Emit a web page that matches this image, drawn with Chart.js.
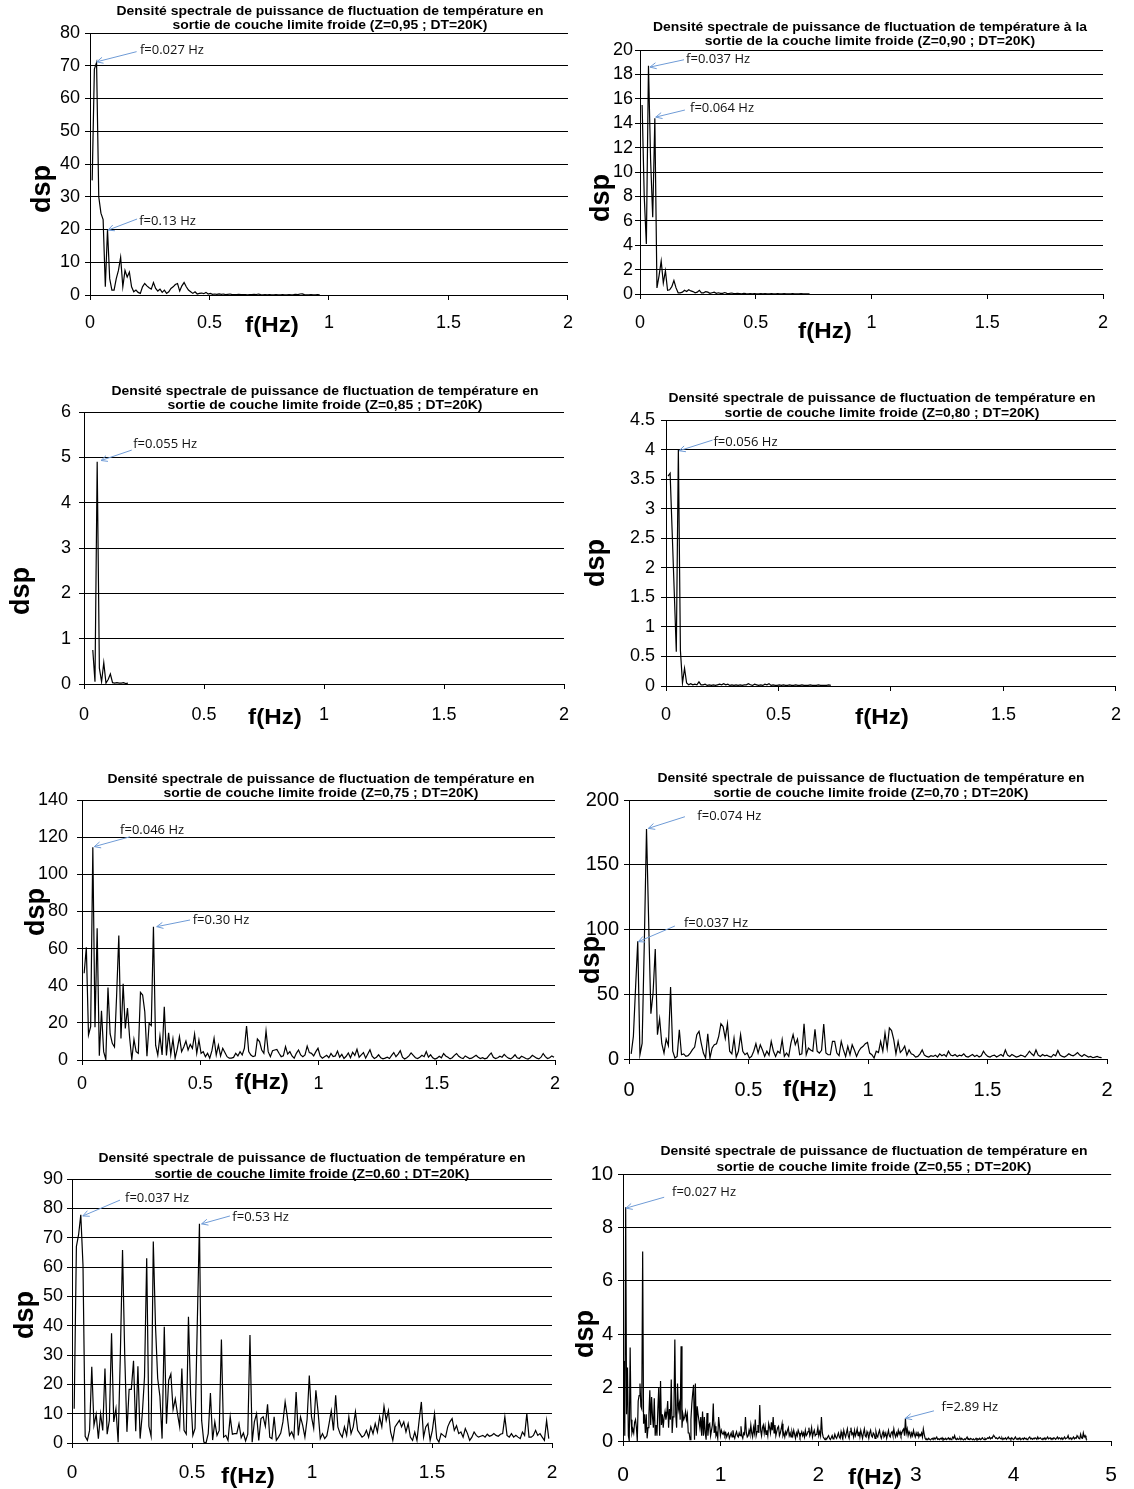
<!DOCTYPE html>
<html><head><meta charset="utf-8">
<script src="https://cdn.jsdelivr.net/npm/chart.js@4.4.1/dist/chart.umd.min.js"></script>
<style>
html,body{margin:0;padding:0;background:#fff;}
body{width:1134px;height:1489px;position:relative;overflow:hidden;}
canvas{position:absolute;}
</style></head><body>
<canvas id="c1"></canvas><canvas id="c2"></canvas><canvas id="c3"></canvas><canvas id="c4"></canvas>
<canvas id="c5"></canvas><canvas id="c6"></canvas><canvas id="c7"></canvas><canvas id="c8"></canvas>
<script>
// frequency resolution of the spectra (Hz per bin)
const freqStep = 0.009155;

// ---- series values (dsp), one value per frequency bin ----
const z095 = [35,69,71,30,25,23,2.5,20,5,1.5,
1.5,5,7.5,11.5,2.5,7.5,5.5,7,2.5,1,
1.5,0.8,0.5,2.5,3.5,2.8,2.2,1.8,3.8,2,
1.2,1.8,0.8,1.5,0.5,1,2,2.5,3.2,3.5,
1.2,2.8,3.8,2.5,1.5,1,0.5,1,0.3,0.5,
0.6,0.4,0.8,0.3,0.5,0.2,0.3,0.2,0.35,0.2,
0.3,0.1,0.2,0.3,0.1,0.15,0.1,0.2,0.1,0.15,
0.1,0.05,0.1,0.1,0.2,0.15,0.3,0.1,0.05,0.1,
0.05,0.1,0.05,0.05,0.1,0.05,0.05,0.1,0.05,0.05,
0.1,0.05,0.1,0.2,0.1,0.3,0.35,0.1,0.05,0.05,
0.1,0.05,0.05,0.1,0.05];
const z090 = [15.5,8,4.1,18.7,11,6.3,14.4,0.5,1.5,2.7,
0.9,1.9,0.3,0.35,0.6,1.1,0.5,0.1,0.1,0.15,
0.3,0.2,0.35,0.25,0.2,0.1,0.15,0.3,0.1,0.1,
0.2,0.15,0.05,0.1,0.15,0.05,0.1,0.05,0.05,0.12,
0.05,0.03,0.08,0.05,0.03,0.06,0.04,0.02,0.05,0.03,
0.02,0.04,0.02,0.03,0.02,0.02,0.04,0.02,0.03,0.02,
0.02,0.03,0.02,0.02,0.03,0.02,0.02,0.03,0.02,0.02,
0.02,0.03,0.02,0.02,0.02,0.03,0.02,0.02,0.02,0.02];
const z085 = [0.75,0.05,4.9,0.35,0.05,0.47,0.02,0.1,0.22,0.03,0.02,0.03,0.02,0.02,0.03,0.01,0.02];
const z080 = [3.55,3.6,2.6,1.6,0.58,4.0,0.6,0.05,0.3,0.05,
0.02,0.04,0.02,0.03,0.02,0.07,0.02,0.02,0.03,0.01,
0.02,0.01,0.02,0.01,0.02,0.03,0.02,0.04,0.02,0.03,
0.01,0.02,0.01,0.02,0.01,0.02,0.01,0.02,0.02,0.04,
0.02,0.01,0.03,0.02,0.01,0.02,0.01,0.03,0.02,0.04,
0.01,0.02,0.01,0.01,0.02,0.01,0.02,0.01,0.01,0.02,
0.01,0.01,0.02,0.01,0.01,0.02,0.01,0.01,0.01,0.02,
0.01,0.01,0.01,0.02,0.01,0.01,0.01,0.01,0.02,0.01];
const z075 = [46.7,60.7,13.5,18,114.5,17.6,71,2.3,26.5,4.5,
0.3,39,14,9,7,35,67,11.6,41,17,
28,12,0.3,11,4.5,3.6,36.4,35,26,2,
19.7,18.5,71.8,8,2.7,13,2.7,28.7,2.5,14.7,
3,11.3,1,6,12.6,4.5,7,10.2,5.4,8.4,
6.3,14,3.6,10.8,3.6,4.5,1.8,3.6,1,5,
11.7,2.7,8,2.2,6.3,4,1.8,1,1,1.4,
3.6,2.2,4.5,2.7,6.3,18.3,4.5,2.7,1.8,2.2,
11.3,9.9,5.4,3.6,15.6,4.5,1.8,5,5.4,5.7,
3.6,1.8,2.2,7.2,3.2,4.5,2.2,1,3.6,5.4,
2.7,1.8,2.7,7.5,4,3.6,2.2,4.5,6.3,2.2,
1,1.8,
2.5,1.2,3.5,1.8,2.2,4.8,1.5,3,0.8,2,
3.8,1.2,4.2,2.5,5.8,1.5,2.8,4,1,3.2,
5.5,2,0.8,1.5,2.8,1.2,0.6,1,1.5,0.8,
2.5,4,1.8,3.2,5,1.5,0.5,1.2,2.2,3.8,
2.5,1.2,0.8,1.5,2.5,1.8,4.5,1.5,2.8,1.2,
0.5,1,2,1.2,3.5,2.2,1.5,0.6,1.2,2.5,
3.5,2,1.2,0.8,2.2,1.5,0.8,1,1.8,2.5,
1.5,0.8,1.2,0.6,1,2.5,3.8,1.5,0.8,1.2,
2,1.5,3,1.8,1,0.6,1.5,2.8,1.2,0.8,
2,1.5,0.8,0.5,1.2,2.5,1.8,1,0.6,1.5,
3.5,1.8,0.8,1.2,2.2,1.5];
const z070 = [4,17.5,55,91,3.3,12,90,177.6,105,35,
51,85,18.8,31,11.8,4.6,15.4,10.3,55.5,6,
0.8,2,22.6,3.3,3.9,2,2.6,4.6,7.2,9.2,
18.8,21.3,12.3,4.6,0.8,19.5,0.8,8.5,11,11.8,
17.5,27.2,25,16,27.2,6,4,16,1.5,6,
18.8,6,3.3,4.6,0.8,2,6,11.8,4.6,11,
7,2,6,3,13.6,6,2,6,4.6,15,
2,4.6,2,12.3,18.8,11,15.4,3.3,4,27.2,
3.3,8.5,7,6,23,6,4.6,6.7,27,4.6,
3.3,3.3,13.6,13.6,4.6,2.6,13.6,7,2,9.8,
3.3,11,7,2,6,8.5,9.8,11.8,12.8,4.6,
3.3,0.8,6,5,
13.5,6,20,8,24,22,15,4,13.5,5,
7,10,3,7,4,3.3,1.5,2,4,7,
3,2,1.5,2.5,2,3,1.5,4,2.5,3.5,
2,6,3,2.5,3.5,2,3,2.5,4,2,
1.5,2.5,3.5,2,3,1.5,2.5,6,3.5,2,
1.5,2.5,3,1.5,2.5,3.5,2.2,7,3,2,
3.5,2.5,1.5,2,3,2.5,1.5,3.5,6,4,
2.5,7,3,2,3.5,2.5,3,2,1.5,3.5,
2.5,6.6,3,2,1.5,2.5,4,3,2.5,3.5,
5,3,2,3.5,2.5,1.5,2,1,1.5,2,1.2,1];
const z060 = [11.7,67,71,77.8,60.7,2.3,0.9,4.3,26,6,
9.8,1.5,10,4.3,25.4,3,7.7,37.4,7.2,11.7,
0.3,30,65.8,30,3.8,18.3,18.3,28,4,26.2,
1.5,10,22.5,63,5.7,2.3,68.7,40,22,16,
1.5,39.6,6.6,21.4,23.5,11.4,15,10,5.5,25.4,
4.3,3,43,16.3,2.6,5,40,74.7,7.7,0.3,
0,3.2,17,1,7.2,2.6,4.3,35.3,2,2.6,
0.9,9,3,3.2,3.2,6.6,1.8,3.4,0.7,3,
36.8,0.3,7.2,10,0.9,8.3,8.9,5.7,13.2,2,
1.5,8.9,0.9,2,3.4,7.2,14,8.9,2.6,3.8,
1.8,17.4,2.6,8.9,6,2,8,23,9,5,
18,10.6,
1.5,3.2,1.5,2.5,6.6,11,4.3,16.3,5.5,3.2,
2,5.5,2.6,8.9,3.2,5.5,10.6,4.3,3.2,2,
2.6,4.3,2,5.5,3.2,6.6,3.75,8.9,5.5,12.5,
7.7,11,3.75,0.9,5.5,6.6,7.7,5.5,7.2,3.75,
6.6,2,0.9,3.75,0.9,7.7,14,2,5.5,6.6,
0.9,4.3,10,1.5,0.3,3.2,2.6,2,5.5,7.2,
8.3,4.3,5.9,3.2,3.75,2,4.9,3.2,0.9,2,
3.75,2.6,2,2.3,2.6,2,3,2.3,2.6,3.2,
2.6,2.3,3,3.2,8.9,2.6,2,3.2,2,2.6,
2,1.5,3.75,2.6,10,2,2,2.6,4.3,2.6,
3.2,2,0.9,7.7,1.5];
const z055 = [3.0,0.2,8.75,1.0,2.75,0.2,0.0,3.5,0.8,0.3,0.45,0.3,0.7,0.8,0.5,0.0,1.5,1.7,2.15,1.3,
1.2,7.1,0.65,1.0,0.3,1.0,0.1,0.5,1.0,1.9,0.6,1.65,0.9,0.5,1.6,0.2,0.6,0.2,1.2,2.0,
0.2,2.25,0.6,1.0,0.5,0.9,1.1,0.8,1.0,1.5,0.5,1.2,0.8,2.3,0.3,0.9,1.2,3.8,1.0,0.5,
2.15,1.2,1.4,0.8,3.55,0.5,1.0,0.8,0.9,1.1,0.8,1.0,0.3,0.3,0.05,0.8,1.4,1.8,2.1,0.05,
2.15,0.2,1.3,1.0,1.0,0.5,0.9,0.2,1.1,0.2,0.9,0.3,0.05,1.05,0.2,0.6,0.65,0.2,0.4,0.6,
1.4,0.3,0.55,0.2,0.3,0.1,0.9,0.55,0.2,0.4,0.3,0.25,0.35,0.2,0.3,0.15,0.25,0.3,0.1,0.2,
0.3,0.15,0.4,0.2,0.1,0.25,0.35,0.2,0.15,0.3,0.2,0.55,0.2,0.1,0.3,0.25,0.9,0.3,0.15,0.2,
0.4,0.25,0.6,0.3,0.15,0.5,0.3,0.8,0.2,0.35,0.6,0.3,1.35,0.4,0.2,0.5,0.6,0.3,0.55,0.25,
0.4,0.2,0.65,0.5,0.3,0.7,0.4,0.9,0.3,0.6,0.2,0.35,0.5,0.55,0.2,0.3,0.45,0.65,0.2,0.3,
0.15,0.35,0.25,0.4,0.5,0.2,0.3,0.15,0.35,0.2,0.4,0.25,0.1,0.3,0.2,0.4,0.3,0.15,0.25,0.35,
0.2,0.3,0.15,0.4,0.2,0.25,0.35,0.5,0.2,0.3,0.5,0.15,0.3,0.4,0.2,0.25,0.3,0.5,0.2,0.35,
0.2,0.9,0.3,0.15,0.1,0.05,0.1,0.08,0.15,0.2,0.1,0.05,0.12,0.2,0.08,0.1,0.25,0.15,0.1,0.2,
0.3,0.15,0.1,0.35,0.2,0.1,0.4,0.25,0.15,0.3,0.45,0.2,0.1,0.35,0.5,0.25,0.3,0.15,0.4,0.2,
0.3,0.45,0.2,0.35,0.15,0.4,0.25,0.1,0.3,0.45,0.2,0.15,0.35,0.25,0.1,0.3,0.4,0.2,0.15,0.3,
0.25,0.1,0.35,0.2,0.15,0.3,0.4,0.2,0.1,0.25,0.35,0.15,0.2,0.3,0.1,0.25,0.4,0.2,0.15,0.3,
0.35,0.2,0.45,0.25,0.15,0.3,0.2,0.4,0.25,0.35,0.2,0.3,0.4,0.45,0.2,0.85,0.3,0.45,0.2,0.35,
0.25,0.15,0.3,0.2,0.4,0.25,0.15,0.3,0.2,0.35,0.15,0.25,0.2,0.3,0.15,0.45,0.25,0.1,0.05,0.08,
0.05,0.1,0.06,0.04,0.08,0.1,0.05,0.12,0.08,0.1,0.15,0.06,0.08,0.05,0.1,0.07,0.12,0.05,0.08,0.06,
0.1,0.05,0.08,0.12,0.06,0.1,0.05,0.08,0.15,0.1,0.2,0.08,0.05,0.1,0.06,0.08,0.12,0.05,0.1,0.06,
0.04,0.08,0.05,0.1,0.15,0.06,0.08,0.05,0.1,0.07,0.05,0.08,0.04,0.06,0.1,0.05,0.08,0.06,0.1,0.05,
0.07,0.12,0.08,0.05,0.1,0.06,0.08,0.12,0.1,0.15,0.08,0.12,0.1,0.18,0.2,0.15,0.1,0.12,0.08,0.1,
0.15,0.1,0.08,0.12,0.05,0.1,0.08,0.12,0.06,0.1,0.15,0.08,0.1,0.06,0.12,0.08,0.05,0.1,0.15,0.08,
0.06,0.1,0.08,0.12,0.05,0.08,0.1,0.06,0.12,0.08,0.1,0.05,0.08,0.12,0.15,0.08,0.1,0.06,0.1,0.08,
0.12,0.1,0.06,0.15,0.08,0.1,0.12,0.08,0.05,0.1,0.08,0.12,0.06,0.1,0.15,0.08,0.1,0.12,0.06,0.1,
0.08,0.12,0.1,0.06,0.1,0.15,0.08,0.12,0.1,0.08,0.12,0.06,0.1,0.15,0.08,0.1,0.12,0.2,0.08,0.1,
0.12,0.06,0.1,0.15,0.08,0.12,0.1,0.2,0.15,0.1,0.08,0.25,0.12,0.1,0.3,0.15,0.2,0.1,0.05];

// index of the first frequency bin of each series
const firstBin = {z095:1, z090:1, z085:4, z080:1, z075:1, z070:1, z060:1, z055:1};

// titles (Z values)
const titles = {
  z095: ["Densité spectrale de puissance de fluctuation de température en", "sortie de couche limite froide (Z=0,95 ; DT=20K)"],
  z090: ["Densité spectrale de puissance de fluctuation de température à la", "sortie de la couche limite froide (Z=0,90 ; DT=20K)"],
  z085: ["Densité spectrale de puissance de fluctuation de température en", "sortie de couche limite froide (Z=0,85 ; DT=20K)"],
  z080: ["Densité spectrale de puissance de fluctuation de température en", "sortie de couche limite froide (Z=0,80 ; DT=20K)"],
  z075: ["Densité spectrale de puissance de fluctuation de température en", "sortie de couche limite froide (Z=0,75 ; DT=20K)"],
  z070: ["Densité spectrale de puissance de fluctuation de température en", "sortie de couche limite froide (Z=0,70 ; DT=20K)"],
  z060: ["Densité spectrale de puissance de fluctuation de température en", "sortie de couche limite froide (Z=0,60 ; DT=20K)"],
  z055: ["Densité spectrale de puissance de fluctuation de température en", "sortie de couche limite froide (Z=0,55 ; DT=20K)"]
};

// peak annotations: label, arrow tip (f, dsp), arrow start (f, dsp), text anchor (f, dsp)
const peaks = {
  z095: [{label:"f=0.027 Hz", tip:[0.028,71.2], from:[0.195,74.3], at:[0.209,74.8]},
         {label:"f=0.13 Hz",  tip:[0.075,19.8], from:[0.197,23.2], at:[0.206,22.4]}],
  z090: [{label:"f=0.037 Hz", tip:[0.043,18.6], from:[0.190,19.2], at:[0.199,19.2]},
         {label:"f=0.064 Hz", tip:[0.068,14.5], from:[0.194,15.08], at:[0.216,15.2]}],
  z085: [{label:"f=0.055 Hz", tip:[0.071,4.93], from:[0.199,5.16], at:[0.205,5.29]}],
  z080: [{label:"f=0.056 Hz", tip:[0.058,3.98], from:[0.207,4.16], at:[0.211,4.13]}],
  z075: [{label:"f=0.046 Hz", tip:[0.052,114.9], from:[0.203,120.2], at:[0.161,123.8]},
         {label:"f=0.30 Hz",  tip:[0.316,71.8], from:[0.457,75.4], at:[0.468,75.4]}],
  z070: [{label:"f=0.074 Hz", tip:[0.081,178.1], from:[0.234,187.1], at:[0.286,187.1]},
         {label:"f=0.037 Hz", tip:[0.039,90.6], from:[0.192,102.7], at:[0.230,104.8]}],
  z060: [{label:"f=0.037 Hz", tip:[0.045,77.4], from:[0.200,82.8], at:[0.221,83.4]},
         {label:"f=0.53 Hz",  tip:[0.540,74.7], from:[0.658,77.4], at:[0.668,77.1]}],
  z055: [{label:"f=0.027 Hz", tip:[0.030,8.72], from:[0.422,9.13], at:[0.502,9.30]},
         {label:"f=2.89 Hz",  tip:[2.892,0.85], from:[3.185,1.13], at:[3.263,1.28]}]
};

// axis ranges
const axes = {
  z095:{xMax:2,xStep:0.5,yMax:80,yStep:10},
  z090:{xMax:2,xStep:0.5,yMax:20,yStep:2},
  z085:{xMax:2,xStep:0.5,yMax:6,yStep:1},
  z080:{xMax:2,xStep:0.5,yMax:4.5,yStep:0.5},
  z075:{xMax:2,xStep:0.5,yMax:140,yStep:20},
  z070:{xMax:2,xStep:0.5,yMax:200,yStep:50},
  z060:{xMax:2,xStep:0.5,yMax:90,yStep:10},
  z055:{xMax:5,xStep:1,yMax:10,yStep:2}
};
const seriesValues = {z095, z090, z085, z080, z075, z070, z060, z055};

// ---- layout (page pixels) ----
const layoutCfg = {
  z095:{id:'c1',box:[0,0,585,350],area:[90,568,33,295],yF:18,xF:18,yPad:5,xPad:12,title:[330,12,26],dsp:[43,189],fhz:[272,326]},
  z090:{id:'c2',box:[575,0,559,350],area:[640,1103,50,294],yF:18,xF:18,yPad:2,xPad:13,title:[870,28,42],dsp:[602,198],fhz:[825,332]},
  z085:{id:'c3',box:[0,375,585,360],area:[84,564,412,684],yF:18,xF:18,yPad:8,xPad:15,title:[325,392,405.5],dsp:[22,591],fhz:[275,718]},
  z080:{id:'c4',box:[575,375,559,360],area:[666,1122,420,686],yF:18,xF:18,yPad:6,xPad:13,title:[882,399,414],dsp:[597,563],fhz:[882,718],fhzBg:true},
  z075:{id:'c5',box:[0,745,585,360],area:[82,555,800,1060],yF:18,xF:18,yPad:9,xPad:8,title:[321,780,794],dsp:[37,912],fhz:[262,1083]},
  z070:{id:'c6',box:[575,745,559,360],area:[629,1107,800,1059],yF:20,xF:20,yPad:5,xPad:14,title:[871,779,794],dsp:[592,960],fhz:[810,1090]},
  z060:{id:'c7',box:[0,1140,585,349],area:[72,552,1179,1443],yF:18,xF:19,yPad:4,xPad:13,title:[312,1159,1175],dsp:[26,1315],fhz:[248,1477]},
  z055:{id:'c8',box:[575,1140,559,349],area:[623,1118,1174,1441],yF:20,xF:21,yPad:5,xPad:17,title:[874,1152,1168],dsp:[586,1334],fhz:[875,1478]}
};

function drawText(ctx, s, x, y, font, o) {
  o = o || {};
  ctx.save();
  ctx.font = font;
  ctx.fillStyle = o.color || '#000';
  ctx.textAlign = o.align || 'center';
  ctx.textBaseline = 'middle';
  ctx.translate(x, y);
  if (o.rot) ctx.rotate(o.rot);
  ctx.scale(o.sx || 1, 1);
  if (o.bg) {
    const w = ctx.measureText(s).width;
    ctx.fillStyle = '#fff';
    ctx.fillRect(-w/2 - 2, -11, w + 4, 22);
    ctx.fillStyle = o.color || '#000';
  }
  ctx.fillText(s, 0, 0);
  ctx.restore();
}

function decorPlugin(key, L) {
  return {
    id: 'decor_' + key,
    afterDraw(chart) {
      const ctx = chart.ctx, xs = chart.scales.x, ys = chart.scales.y;
      const bx = L.box[0], by = L.box[1];
      const t = titles[key];
      drawText(ctx, t[0], L.title[0] - bx, L.title[1] - by, 'bold 12px "Liberation Sans", Arial', {sx: 1.16});
      drawText(ctx, t[1], L.title[0] - bx, L.title[2] - by, 'bold 12px "Liberation Sans", Arial', {sx: 1.16});
      drawText(ctx, 'dsp', L.dsp[0] - bx, L.dsp[1] - by, 'bold 27px "Liberation Sans", Arial', {rot: -Math.PI / 2});
      drawText(ctx, 'f(Hz)', L.fhz[0] - bx, L.fhz[1] - by, 'bold 22px "Liberation Sans", Arial', {sx: 1.1, bg: !!L.fhzBg});
      (peaks[key] || []).forEach(a => {
        const tx = xs.getPixelForValue(a.tip[0]), ty = ys.getPixelForValue(a.tip[1]);
        const fx = xs.getPixelForValue(a.from[0]), fy = ys.getPixelForValue(a.from[1]);
        ctx.save();
        ctx.strokeStyle = '#6f9bd6';
        ctx.lineWidth = 1;
        ctx.beginPath(); ctx.moveTo(fx, fy); ctx.lineTo(tx, ty); ctx.stroke();
        const ang = Math.atan2(fy - ty, fx - tx);
        ctx.beginPath();
        ctx.moveTo(tx + 7 * Math.cos(ang + 0.45), ty + 7 * Math.sin(ang + 0.45));
        ctx.lineTo(tx, ty);
        ctx.lineTo(tx + 7 * Math.cos(ang - 0.45), ty + 7 * Math.sin(ang - 0.45));
        ctx.stroke();
        ctx.restore();
        drawText(ctx, a.label, xs.getPixelForValue(a.at[0]), ys.getPixelForValue(a.at[1]),
                 '13px "Open Sans", "Liberation Sans"', {align: 'left', color: '#111'});
      });
    }
  };
}

const fmt = v => String(Math.round(v * 1000) / 1000);

Object.keys(layoutCfg).forEach(key => {
  const L = layoutCfg[key], A = axes[key];
  const cv = document.getElementById(L.id);
  const [bx, by, bw, bh] = L.box;
  const [al, ar, at, ab] = L.area;
  cv.width = bw; cv.height = bh;
  cv.style.left = bx + 'px'; cv.style.top = by + 'px';
  const yW = al - bx, xH = by + bh - ab;
  const pts = seriesValues[key].map((v, k) => ({x: (firstBin[key] + k) * freqStep, y: v}));
  new Chart(cv, {
    type: 'line',
    data: {datasets: [{data: pts, borderColor: '#000', borderWidth: 1.2, pointRadius: 0, tension: 0, fill: false}]},
    options: {
      responsive: false, animation: false, events: [],
      layout: {padding: {top: at - by, right: bx + bw - ar, left: 0, bottom: 0}},
      plugins: {legend: {display: false}, tooltip: {enabled: false}, title: {display: false}},
      scales: {
        x: {
          type: 'linear', min: 0, max: A.xMax,
          afterFit: s => { s.height = xH; },
          ticks: {stepSize: A.xStep, autoSkip: false, maxRotation: 0, padding: L.xPad, color: '#000',
                  font: {family: '"Liberation Sans", Arial', size: L.xF}, callback: fmt},
          grid: {drawOnChartArea: false, drawTicks: true, tickLength: 5, color: '#000', lineWidth: 1},
          border: {display: true, color: '#000', width: 1}
        },
        y: {
          type: 'linear', min: 0, max: A.yMax,
          afterFit: s => { s.width = yW; },
          ticks: {stepSize: A.yStep, autoSkip: false, padding: L.yPad, color: '#000',
                  font: {family: '"Liberation Sans", Arial', size: L.yF}, callback: fmt},
          grid: {drawOnChartArea: true, drawTicks: true, tickLength: 5, color: '#000', lineWidth: 1},
          border: {display: true, color: '#000', width: 1}
        }
      }
    },
    plugins: [decorPlugin(key, L)]
  });
});
</script>
</body></html>
